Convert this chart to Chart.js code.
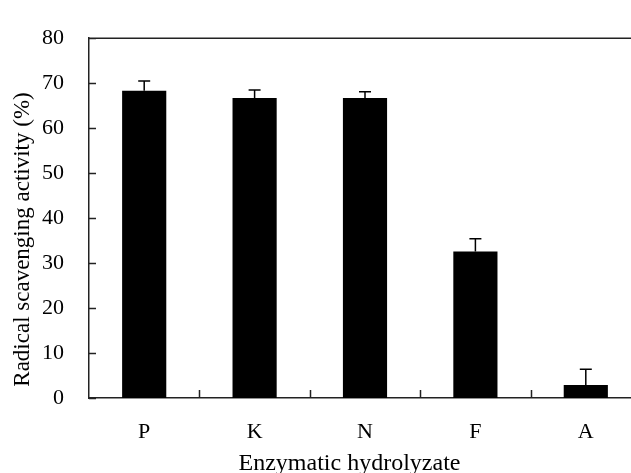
<!DOCTYPE html>
<html>
<head>
<meta charset="utf-8">
<script src="https://cdn.jsdelivr.net/npm/chart.js@4"></script>
<style>
  html, body { margin: 0; padding: 0; background: #fff; overflow: hidden; }
  #wrap { width: 631px; height: 473px; overflow: hidden; }
</style>
</head>
<body>
<div id="wrap"><canvas id="chart" width="645" height="473"></canvas></div>
<script>
// enzymatic hydrolyzates and their scavenging activity (%), with SD
const hydrolyzates = ['P', 'K', 'N', 'F', 'A'];
const activity = [68.3, 66.7, 66.7, 32.6, 2.9];
const sd = [2.2, 1.8, 1.4, 2.8, 3.5];
const yTicks = [0, 10, 20, 30, 40, 50, 60, 70, 80];

const serif = "'Liberation Serif', 'Times New Roman', serif";
const axisColor = '#222';

// inward tick marks, top frame line, error bars and axis titles
const extras = {
  id: 'extras',
  afterDatasetsDraw(chart) {
    const ctx = chart.ctx;
    const area = chart.chartArea;
    const x = chart.scales.x;
    const y = chart.scales.y;
    ctx.save();

    // error bars (upper only)
    ctx.strokeStyle = '#000';
    ctx.lineWidth = 1.5;
    const meta = chart.getDatasetMeta(0);
    meta.data.forEach((bar, i) => {
      const top = y.getPixelForValue(activity[i] + sd[i]);
      ctx.beginPath();
      ctx.moveTo(bar.x, bar.y);
      ctx.lineTo(bar.x, top);
      ctx.moveTo(bar.x - 6, top);
      ctx.lineTo(bar.x + 6, top);
      ctx.stroke();
    });

    ctx.strokeStyle = axisColor;
    ctx.lineWidth = 1.5;
    ctx.beginPath();
    // top frame
    ctx.moveTo(area.left, area.top);
    ctx.lineTo(area.right, area.top);
    // y ticks pointing in
    yTicks.forEach(v => {
      const py = Math.round(y.getPixelForValue(v)) + 0.5;
      ctx.moveTo(area.left, py);
      ctx.lineTo(area.left + 7, py);
    });
    // x ticks on category boundaries, pointing in
    const step = (area.right - area.left) / hydrolyzates.length;
    for (let i = 1; i <= hydrolyzates.length; i++) {
      const px = Math.round(area.left + i * step) + 0.5;
      ctx.moveTo(px, area.bottom);
      ctx.lineTo(px, area.bottom - 8);
    }
    ctx.stroke();

    // axis titles
    ctx.fillStyle = '#000';
    ctx.textAlign = 'center';
    ctx.textBaseline = 'alphabetic';
    ctx.font = '24px ' + serif;
    ctx.fillText('Enzymatic hydrolyzate', 349.5, 470);
    ctx.font = '23px ' + serif;
    ctx.translate(29, 239.5);
    ctx.rotate(-Math.PI / 2);
    ctx.fillText('Radical scavenging activity (%)', 0, 0);
    ctx.restore();
  }
};

new Chart(document.getElementById('chart'), {
  type: 'bar',
  data: {
    labels: hydrolyzates,
    datasets: [{
      data: activity,
      backgroundColor: '#000',
      borderWidth: 0,
      barPercentage: 0.4,
      categoryPercentage: 1
    }]
  },
  options: {
    responsive: false,
    animation: false,
    layout: { padding: { top: 19, right: 4, left: 0, bottom: 0 } },
    plugins: {
      legend: { display: false },
      tooltip: { enabled: false }
    },
    scales: {
      x: {
        grid: { display: false, drawTicks: false },
        border: { display: true, color: axisColor, width: 1.5 },
        ticks: { color: '#000', padding: 21, font: { family: serif, size: 22 } },
        afterFit(scale) { scale.height = 75; }
      },
      y: {
        min: 0,
        max: 80,
        grid: { display: false, drawTicks: false },
        border: { display: true, color: axisColor, width: 1.5 },
        ticks: {
          stepSize: 10,
          color: '#000',
          padding: 25,
          font: { family: serif, size: 22 }
        },
        afterFit(scale) { scale.width = 89; }
      }
    }
  },
  plugins: [extras]
});
</script>
</body>
</html>
